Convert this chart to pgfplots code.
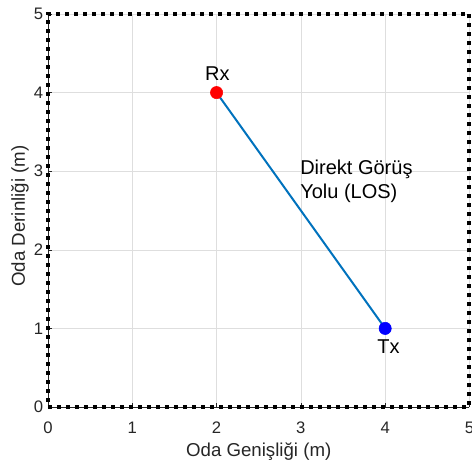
\documentclass[border=0pt]{standalone}
\usepackage{fontspec}
\setmainfont{Liberation Sans}
\usepackage{pgfplots}
\pgfplotsset{compat=1.18}
\definecolor{losblue}{rgb}{0,0.447,0.741}
\definecolor{axgray}{rgb}{0.15,0.15,0.15}
\definecolor{gridgray}{rgb}{0.87,0.87,0.87}
\begin{document}
\begin{tikzpicture}
\begin{axis}[
  scale only axis, width=316.1pt, height=294.75pt,
  xmin=0, xmax=5, ymin=0, ymax=5,
  axis x line*=bottom, axis y line*=left,
  axis line style={-, axgray, line width=0.4pt},
  xtick={0,...,5}, ytick={0,...,5},
  tick align=inside, major tick length=3pt,
  tick style={axgray, line width=0.4pt},
  grid=major, grid style={gridgray, line width=0.4pt},
  ticklabel style={font=\fontsize{12.5}{14}\selectfont, text=axgray},
  xticklabel style={yshift=-7.5pt},
  /pgf/number format/assume math mode=true,
  xlabel={Oda Genişliği (m)}, ylabel={Oda Derinliği (m)},
  label style={font=\fontsize{14}{16}\selectfont, text=axgray},
  xlabel style={at={(axis description cs:0.5,-0.127)}, anchor=base},
  ylabel style={at={(axis description cs:-0.0546,0.486)}, anchor=base},
  clip=false,
]
% room boundary
\addplot[black, line width=3pt, dash pattern=on 3pt off 3.75pt]
  coordinates {(0,0) (5,0) (5,5) (0,5) (0,0)};
% receiver and transmitter
\addplot[only marks, mark=*, mark size=4.6pt, red, mark options={fill=red, draw=red}]
  coordinates {(2,4)};
\addplot[only marks, mark=*, mark size=4.6pt, blue, mark options={fill=blue, draw=blue}]
  coordinates {(4,1)};
% line-of-sight path
\addplot[losblue, line width=1.5pt] coordinates {(2,4) (4,1)};
\node[font=\fontsize{15}{18}\selectfont] at (axis cs:2.01,4.243) {Rx};
\node[font=\fontsize{15}{18}\selectfont] at (axis cs:4.04,0.763) {Tx};
\node[font=\fontsize{15}{18}\selectfont, anchor=west, align=left, inner sep=0pt]
  at (axis cs:2.99,2.875) {Direkt Görüş\\Yolu (LOS)};
\coordinate (bbll) at (axis cs:-0.569,-0.751);
\coordinate (bbur) at (axis cs:5.03,5.178);
\end{axis}
\pgfresetboundingbox
\path[use as bounding box] (bbll) rectangle (bbur);
\end{tikzpicture}
\end{document}
